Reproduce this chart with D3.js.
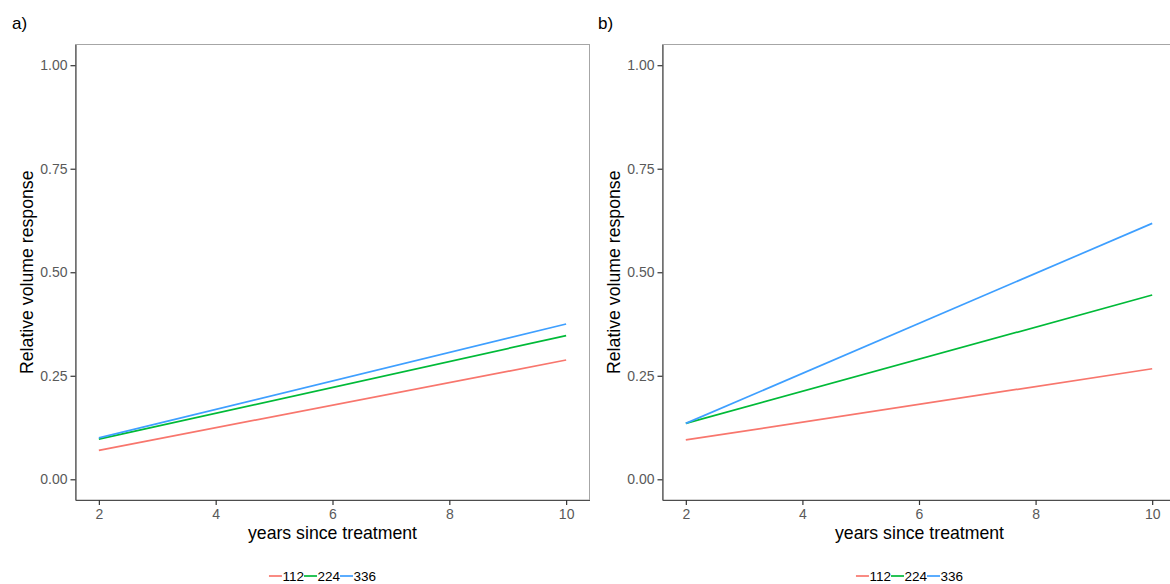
<!DOCTYPE html>
<html>
<head>
<meta charset="utf-8">
<script src="https://cdn.jsdelivr.net/npm/d3@7"></script>
<style>
  body { margin: 0; background: #fff; }
  svg { font-family: "Liberation Sans", Arial, sans-serif; display: block; }
  .tick text { font-size: 14px; fill: #595959; }
</style>
</head>
<body>
<div id="chart"></div>
<script>
// values (straight fitted lines, so ends only)
const years = [2, 10];
const doses = ['112', '224', '336'];
const panelA = [
  [0.070, 0.288],
  [0.097, 0.347],
  [0.100, 0.375]
];
const panelB = [
  [0.095, 0.267],
  [0.135, 0.445],
  [0.135, 0.618]
];
const panelLabels = ['a)', 'b)'];
const xTicks = [2, 4, 6, 8, 10];
const yTicks = [0, 0.25, 0.5, 0.75, 1];
const colors = ['#F8766D', '#00BA38', '#3E9FFF'];

const width = 1170;
const height = 584;

const svg = d3.select('#chart')
  .append('svg')
  .attr('width', width)
  .attr('height', height);

const panels = [
  { left: 75.5, right: 589.5, data: panelA, label: panelLabels[0], labelX: 12, titleX: 27 },
  { left: 662.5, right: 1175.5, data: panelB, label: panelLabels[1], labelX: 598, titleX: 614 }
];
const panelTop = 44.5, panelBottom = 500;

panels.forEach(p => {
  const x = d3.scaleLinear().domain([1.6, 10.4]).range([p.left, p.right]);
  const y = d3.scaleLinear().domain([-0.05, 1.05]).range([panelBottom, panelTop]);
  const g = svg.append('g');

  // panel border (top/right light)
  g.append('rect')
    .attr('x', p.left).attr('y', panelTop)
    .attr('width', p.right - p.left).attr('height', panelBottom - panelTop)
    .attr('fill', 'none').attr('stroke', '#a6a6a6').attr('stroke-width', 1);

  // lines
  const line = d3.line().x((d, i) => x(years[i])).y(d => y(d));
  g.selectAll('path.series')
    .data(p.data)
    .join('path')
      .attr('class', 'series')
      .attr('d', d => line(d))
      .attr('fill', 'none')
      .attr('stroke', (d, i) => colors[i])
      .attr('stroke-width', 1.7);

  const xAxis = g.append('g')
    .attr('transform', `translate(0,${panelBottom})`)
    .call(d3.axisBottom(x).tickValues(xTicks).tickSize(5).tickPadding(4).tickSizeOuter(0));
  const yAxis = g.append('g')
    .attr('transform', `translate(${p.left},0)`)
    .call(d3.axisLeft(y).tickValues(yTicks).tickFormat(d3.format('.2f')).tickSize(5).tickPadding(3).tickSizeOuter(0));

  [xAxis, yAxis].forEach(a => {
    a.attr('font-family', null).attr('font-size', null);
    a.select('.domain').attr('stroke', '#4d4d4d').attr('stroke-width', 1.2);
    a.selectAll('.tick line').attr('stroke', '#333').attr('stroke-width', 1.2);
  });

  const midX = (p.left + p.left + 514) / 2;

  svg.append('text')
    .attr('x', midX)
    .attr('y', 539)
    .attr('text-anchor', 'middle')
    .attr('font-size', 17.7)
    .attr('fill', '#000')
    .text('years since treatment');

  svg.append('text')
    .attr('transform', `translate(${p.titleX + 6},${(panelTop + panelBottom) / 2}) rotate(-90)`)
    .attr('text-anchor', 'middle')
    .attr('font-size', 17.7)
    .attr('fill', '#000')
    .text('Relative volume response');

  svg.append('text')
    .attr('x', p.labelX)
    .attr('y', 29)
    .attr('font-size', 17)
    .attr('fill', '#000')
    .text(p.label);

  // legend
  const lg = svg.append('g');
  let cx = 0;
  doses.forEach((d, i) => {
    lg.append('line')
      .attr('x1', cx).attr('x2', cx + 13)
      .attr('y1', 0).attr('y2', 0)
      .attr('stroke', colors[i]).attr('stroke-width', 1.7);
    const t = lg.append('text')
      .attr('x', cx + 13.5).attr('y', 5)
      .attr('font-size', 13.5)
      .attr('fill', '#000')
      .text(d);
    cx += 13.5 + t.node().getComputedTextLength();
  });
  lg.attr('transform', `translate(${midX - cx / 2 - 10},576)`);
});
</script>
</body>
</html>
